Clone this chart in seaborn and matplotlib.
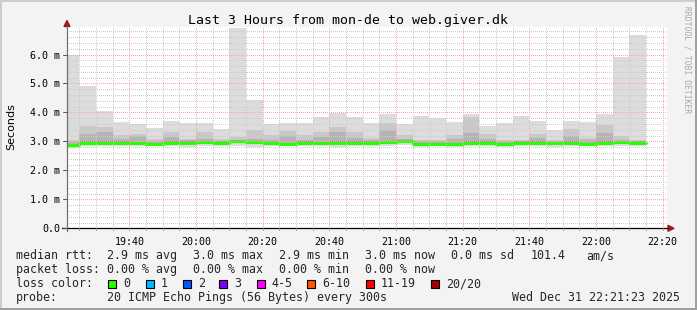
import numpy as np
import pandas as pd
import matplotlib
matplotlib.use("Agg")
import matplotlib.pyplot as plt
import seaborn as sns
from matplotlib.patches import Rectangle, Polygon
from matplotlib.lines import Line2D
from matplotlib.ticker import MultipleLocator, FixedLocator, FixedFormatter

# ---------------- data ----------------
window_start = "19:21:23"
window_end = "22:21:23"
first_bar_end = "19:25"
last_bar_end = "22:15"

# smoke values in milliseconds, one per 5-minute step
max_ms = [6.00, 4.90, 4.04, 3.66, 3.60, 3.45, 3.70, 3.63, 3.65, 3.42,
          6.93, 4.42, 3.61, 3.64, 3.63, 3.84, 3.99, 3.83, 3.63, 3.94,
          3.60, 3.87, 3.80, 3.66, 3.94, 3.53, 3.63, 3.87, 3.71, 3.41,
          3.71, 3.66, 3.94, 5.92, 6.67]
band2_hi = [3.04, 3.54, 3.50, 3.22, 3.24, 3.08, 3.31, 3.10, 3.33, 3.10,
            3.16, 3.41, 3.22, 3.37, 3.22, 3.31, 3.50, 3.33, 3.13, 3.62,
            3.22, 3.06, 3.06, 3.22, 3.85, 3.27, 3.06, 3.06, 3.27, 3.06,
            3.42, 3.13, 3.58, 3.18, 3.05]
band3_hi = [2.98, 3.27, 3.33, 3.08, 3.20, 3.03, 3.16, 3.04, 3.08, 3.03,
            3.05, 3.10, 3.05, 3.17, 3.05, 3.15, 3.31, 3.12, 3.04, 3.40,
            3.08, 3.02, 3.02, 3.10, 3.30, 3.10, 3.02, 3.02, 3.12, 3.02,
            3.20, 3.05, 3.30, 3.05, 3.02]
median_ms = [2.88, 2.96, 2.96, 2.96, 2.93, 2.90, 2.96, 2.96, 2.97, 2.96,
             3.00, 2.99, 2.93, 2.90, 2.96, 2.93, 2.96, 2.96, 2.96, 2.99,
             3.00, 2.90, 2.91, 2.90, 2.96, 2.96, 2.90, 2.96, 2.96, 2.95,
             2.96, 2.91, 2.96, 2.97, 2.96]
min_ms = [2.76, 2.84, 2.84, 2.85, 2.83, 2.83, 2.85, 2.82, 2.84, 2.84,
          2.85, 2.82, 2.83, 2.83, 2.85, 2.83, 2.82, 2.84, 2.85, 2.84,
          2.86, 2.82, 2.83, 2.82, 2.83, 2.84, 2.82, 2.84, 2.83, 2.82,
          2.83, 2.83, 2.84, 2.85, 2.84]

x_tick_labels = ["19:40", "20:00", "20:20", "20:40", "21:00", "21:20", "21:40", "22:00", "22:20"]
y_tick_values = [0, 1, 2, 3, 4, 5, 6]
y_tick_labels = ["0.0", "1.0 m", "2.0 m", "3.0 m", "4.0 m", "5.0 m", "6.0 m"]

title = "Last 3 Hours from mon-de to web.giver.dk"
y_label = "Seconds"

loss_labels = ["0", "1", "2", "3", "4-5", "6-10", "11-19", "20/20"]
loss_colors = ["#26ff00", "#00b8ff", "#0059ff", "#7e00ff", "#ff00ff", "#ff5500", "#ff0000", "#a10000"]

row1 = ["median rtt:", "2.9 ms avg", "3.0 ms max", "2.9 ms min", "3.0 ms now", "0.0 ms sd", "101.4", "am/s"]
row2 = ["packet loss:", "0.00 % avg", "0.00 % max", "0.00 % min", "0.00 % now"]
row3_head = "loss color:"
row4 = ["probe:", "20 ICMP Echo Pings (56 Bytes) every 300s"]
timestamp = "Wed Dec 31 22:21:23 2025"
watermark = "RRDTOOL / TOBI OETIKER"


def minutes(hhmm):
    parts = [int(p) for p in hhmm.split(":")]
    m = (parts[0] - 19) * 60 + parts[1]
    if len(parts) > 2:
        m += parts[2] / 60.0
    return m


# ---------------- layout ----------------
W, H = 697, 310
sns.set_style("white")
plt.rcParams["font.family"] = ["DejaVu Sans Mono", "DejaVu Sans"]

fig = plt.figure(figsize=(W / 100, H / 100), dpi=100)
fig.patch.set_facecolor("#f3f3f3")

ax_l, ax_r, ax_t, ax_b = 67.3, 667.3, 27.0, 228.3
ax = fig.add_axes([ax_l / W, 1 - ax_b / H, (ax_r - ax_l) / W, (ax_b - ax_t) / H])
ax.set_facecolor("white")

x0, x1 = minutes(window_start), minutes(window_end)
ends = pd.date_range("2025-12-31 " + first_bar_end, "2025-12-31 " + last_bar_end, freq="5min")
end_min = np.array([(t.hour - 19) * 60 + t.minute for t in ends], dtype=float)
x_edges = np.concatenate([[x0], end_min])


def ext(v):
    v = np.asarray(v, dtype=float)
    return np.append(v, v[-1])


med = np.asarray(median_ms)
# smoke layers (outer -> inner)
ax.fill_between(x_edges, ext(min_ms), ext(max_ms), step="post", color="#dcdcdc", lw=0, zorder=1)
ax.fill_between(x_edges, ext(med - 0.05), ext(band2_hi), step="post", color="#c8c8c8", lw=0, zorder=1.1)
ax.fill_between(x_edges, ext(med - 0.03), ext(band3_hi), step="post", color="#b4b4b4", lw=0, zorder=1.2)
ax.fill_between(x_edges, ext(med - 0.02), ext(med + 0.04), step="post", color="#909090", lw=0, zorder=1.3)

df = pd.DataFrame({"t": x_edges, "median": ext(median_ms)})
sns.lineplot(data=df, x="t", y="median", drawstyle="steps-post", color="#26ff00",
             lw=2.2, ax=ax, zorder=2, estimator=None)

ax.set_xlim(x0, x1)
ax.set_ylim(0, 6.95)
ax.set_xlabel("")
ax.set_ylabel("")

ax.xaxis.set_major_locator(FixedLocator([minutes(s) for s in x_tick_labels]))
ax.xaxis.set_major_formatter(FixedFormatter(x_tick_labels))
ax.xaxis.set_minor_locator(MultipleLocator(5))
ax.yaxis.set_major_locator(FixedLocator(y_tick_values))
ax.yaxis.set_major_formatter(FixedFormatter(y_tick_labels))
ax.yaxis.set_minor_locator(MultipleLocator(0.2))

ax.set_axisbelow(False)
ax.grid(which="minor", color="#cccccc", ls=(0, (1, 1.5)), lw=0.72, antialiased=False)
ax.grid(which="major", color="#f5a8a8", ls=(0, (1, 1.5)), lw=0.72, antialiased=False)

for s in ax.spines.values():
    s.set_visible(False)
ax.tick_params(axis="both", which="major", labelsize=7.2, length=0, colors="black")
ax.tick_params(axis="x", which="major", pad=6.5)
ax.tick_params(axis="y", which="major", pad=5)
ax.tick_params(which="minor", length=0)


def fx(x):
    return x / W


def fy(y):
    return 1 - y / H


# axis lines and arrows
fig.add_artist(Line2D([fx(62), fx(668)], [fy(ax_b), fy(ax_b)], color="black", lw=0.9))
fig.add_artist(Line2D([fx(ax_l - 0.3), fx(ax_l - 0.3)], [fy(26), fy(231)], color="#707070", lw=0.9))
fig.add_artist(Polygon([[fx(64), fy(26.5)], [fx(70), fy(26.5)], [fx(67), fy(20.5)]],
                       closed=True, color="#9a1c1c", transform=fig.transFigure))
fig.add_artist(Polygon([[fx(668), fy(225.3)], [fx(668), fy(231.3)], [fx(674), fy(228.3)]],
                       closed=True, color="#9a1c1c", transform=fig.transFigure))
# minor ticks on the axes
for m in np.arange(25, x1, 5):
    px = ax_l + (m - x0) / (x1 - x0) * (ax_r - ax_l)
    fig.add_artist(Line2D([fx(px), fx(px)], [fy(ax_b), fy(ax_b + 2)], color="#909090", lw=0.6))
for yv in y_tick_values:
    py = ax_b - yv / 6.95 * (ax_b - ax_t)
    fig.add_artist(Line2D([fx(63), fx(ax_l)], [fy(py), fy(py)], color="#555555", lw=0.7))

# border
fig.add_artist(Rectangle((0, fy(2)), 1, 2 / H, transform=fig.transFigure, color="#cdcdcd", lw=0))
fig.add_artist(Rectangle((0, 0), 2 / W, 1, transform=fig.transFigure, color="#cdcdcd", lw=0))
fig.add_artist(Rectangle((fx(695), 0), 2 / W, 1, transform=fig.transFigure, color="#a0a0a0", lw=0))
fig.add_artist(Rectangle((0, 0), 1, 2 / H, transform=fig.transFigure, color="#a0a0a0", lw=0))

# title / labels
fig.text(fx(348), fy(24), title, ha="center", va="baseline", fontsize=9.5, color="black")
fig.text(fx(11), fy(127), y_label, rotation=90, ha="center", va="center", fontsize=8.0,
         family=["DejaVu Sans"], color="black")
fig.text(fx(686.5), fy(60), watermark, rotation=270, ha="center", va="center", fontsize=5.8,
         color="#a8a8a8")

# legend rows
lfs = 8.4
row1_x = [16, 107.3, 193.3, 279.3, 365, 451, 530.7, 586.7]
for s, x in zip(row1, row1_x):
    fig.text(fx(x), fy(259.3), s, ha="left", va="baseline", fontsize=lfs)
row2_x = [16, 107.3, 193.3, 279.3, 365]
for s, x in zip(row2, row2_x):
    fig.text(fx(x), fy(273.3), s, ha="left", va="baseline", fontsize=lfs)
fig.text(fx(16), fy(287.3), row3_head, ha="left", va="baseline", fontsize=lfs)
box_x = [108.3, 145.7, 182.7, 219.3, 256.7, 307.3, 366, 430.7]
for lab, col, bx in zip(loss_labels, loss_colors, box_x):
    fig.add_artist(Rectangle((fx(bx), fy(287.5)), 8 / W, 8 / H, transform=fig.transFigure,
                             facecolor=col, edgecolor="black", lw=0.8))
    fig.text(fx(bx + 15), fy(287.3), lab, ha="left", va="baseline", fontsize=lfs)
fig.text(fx(16), fy(300.7), row4[0], ha="left", va="baseline", fontsize=lfs)
fig.text(fx(107.3), fy(300.7), row4[1], ha="left", va="baseline", fontsize=lfs)
fig.text(fx(680), fy(300.7), timestamp, ha="right", va="baseline", fontsize=lfs)

fig.savefig("out.png", dpi=100, facecolor=fig.get_facecolor())
